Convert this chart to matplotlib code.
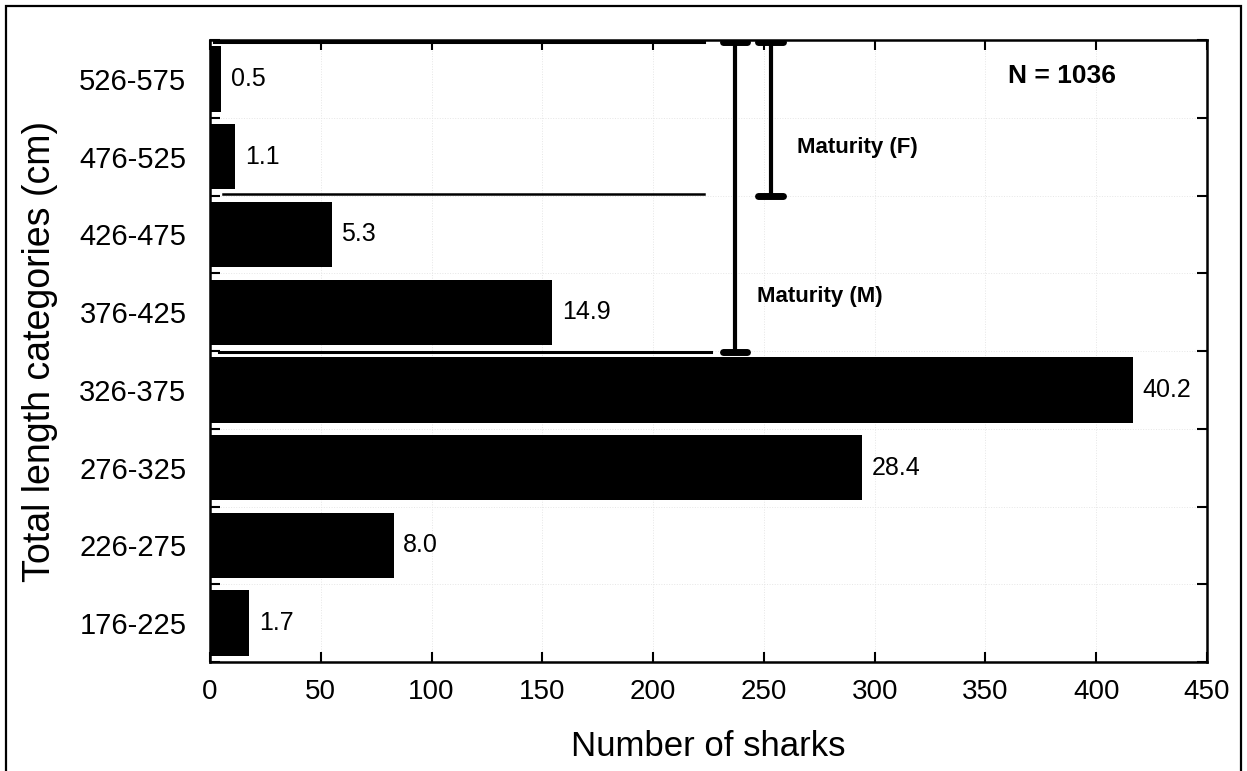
import matplotlib.pyplot as plt
import numpy as np
from matplotlib.patches import Rectangle

categories = ['176-225', '226-275', '276-325', '326-375',
              '376-425', '426-475', '476-525', '526-575']  # length classes (cm)
percent = np.array([1.7, 8.0, 28.4, 40.2, 14.9, 5.3, 1.1, 0.5])  # % of sharks per class
n_total = 1036

counts = percent * n_total / 100.0  # number of sharks in each class

plt.rcParams['font.family'] = ['Liberation Sans', 'DejaVu Sans']

fig = plt.figure(figsize=(12.47, 7.71), dpi=100)
ax = fig.add_axes([0.1684, 0.1414, 0.7995, 0.8066])

y = np.arange(len(categories))
ax.barh(y, counts, height=0.84, color='black')

for yi, c, p in zip(y, counts, percent):
    ax.annotate('%.1f' % p, (c, yi), xytext=(7, 0), textcoords='offset points',
                va='center', ha='left', fontsize=18)

ax.set_xlim(0, 450)
ax.set_ylim(-0.5, len(categories) - 0.5)
ax.set_xticks(np.arange(0, 451, 50))
ax.set_xticklabels([str(v) for v in range(0, 451, 50)], fontsize=20)

# ticks sit on class boundaries, labels in the middle of each class
ax.set_yticks(np.arange(-0.5, len(categories), 1.0))
ax.set_yticklabels([])
ax.set_yticks(y, minor=True)
ax.set_yticklabels(categories, minor=True, fontsize=21)
ax.tick_params(axis='y', which='minor', length=0, pad=17)
ax.tick_params(axis='both', which='major', direction='in', length=7, width=1.5,
               top=True, right=True)
ax.tick_params(axis='x', which='major', pad=12)

ax.grid(True, which='major', color='#e6e6e6', linestyle=':', linewidth=0.7)
ax.set_axisbelow(True)
for s in ax.spines.values():
    s.set_linewidth(1.8)

ax.set_xlabel('Number of sharks', fontsize=25, labelpad=18)
ax.set_ylabel('Total length categories (cm)', fontsize=27, labelpad=15)

# maturity ranges
ax.plot([2, 223], [7.47, 7.47], color='black', lw=2.2)
ax.plot([6, 223], [5.52, 5.52], color='black', lw=1.8)
ax.plot([4, 226], [3.49, 3.49], color='black', lw=2.2)

for xm, y0, y1 in [(237, 3.49, 7.47), (253, 5.5, 7.47)]:
    ax.plot([xm, xm], [y0, y1], color='black', lw=3, solid_capstyle='butt')
    for yy in (y0, y1):
        ax.plot([xm - 5.5, xm + 5.5], [yy, yy], color='black', lw=5,
                solid_capstyle='round')

ax.text(265, 6.12, 'Maturity (F)', fontweight='bold',
        fontsize=16, va='center', ha='left')
ax.text(247, 4.2, 'Maturity (M)', fontweight='bold',
        fontsize=16, va='center', ha='left')
ax.text(409, 7.04, 'N = %d' % n_total, fontweight='bold', fontsize=19,
        va='center', ha='right')

# frame around the whole figure
fig.patches.append(Rectangle((0.005, -0.02), 0.99, 1.012, transform=fig.transFigure,
                             fill=False, edgecolor='black', linewidth=1.6))

fig.savefig('out.png', dpi=100)
